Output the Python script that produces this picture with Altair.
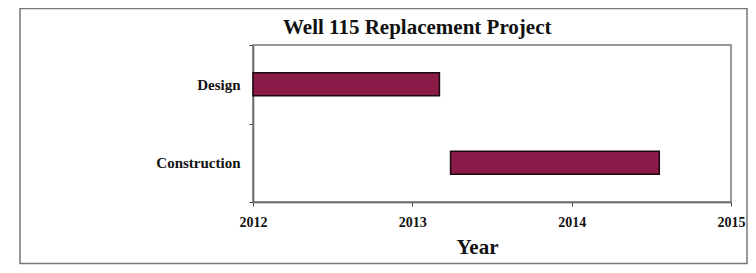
import altair as alt
import pandas as pd

tasks = ["Design", "Construction"]
start_year = [2012.0, 2013.24]
end_year = [2013.17, 2014.55]
x_ticks = [2012, 2013, 2014, 2015]
chart_title = "Well 115 Replacement Project"

df = pd.DataFrame({"task": tasks, "start": start_year, "end": end_year})
one_row = pd.DataFrame({"a": [0]})

FONT = "Liberation Serif"

bars = alt.Chart(df).mark_bar(
    color="#8a1a48", stroke="#1a0a10", strokeWidth=1.5, size=23
).encode(
    x=alt.X(
        "start:Q",
        scale=alt.Scale(domain=[2012, 2015], nice=False, zero=False),
        axis=alt.Axis(
            values=x_ticks, format="d", title="Year", grid=False, labelFlush=False,
            labelFont=FONT, labelFontWeight="bold", labelFontSize=14, labelColor="#111",
            labelPadding=9, tickSize=4, tickColor="#444", domainColor="#444", domainWidth=1.5,
            titleFont=FONT, titleFontWeight="bold", titleFontSize=21, titleColor="#111",
            titleX=224, titleY=51, titleBaseline="alphabetic",
        ),
    ),
    x2="end:Q",
    y=alt.Y(
        "task:N",
        sort=tasks,
        scale=alt.Scale(paddingInner=0, paddingOuter=0),
        axis=alt.Axis(
            title=None, grid=False, tickBand="extent",
            labelFont=FONT, labelFontWeight="bold", labelFontSize=15, labelColor="#111",
            labelPadding=9, tickSize=4, tickColor="#444", domainColor="#444", domainWidth=1.5,
        ),
    ),
)

outer_frame = alt.Chart(one_row).mark_rect(
    fill=None, stroke="#777", strokeWidth=1.5, clip=False
).encode(
    x=alt.value(-233), x2=alt.value(494), y=alt.value(-36.5), y2=alt.value(218.5)
)

plot_frame = alt.Chart(one_row).mark_rect(
    fill=None, stroke="#777", strokeWidth=1.5
).encode(
    x=alt.value(0), x2=alt.value(478), y=alt.value(0), y2=alt.value(157)
)

title_text = alt.Chart(one_row).mark_text(
    font=FONT, fontWeight="bold", fontSize=21, color="#111",
    align="left", baseline="alphabetic", clip=False
).encode(
    x=alt.value(30), y=alt.value(-11), text=alt.value(chart_title)
)

chart = alt.layer(outer_frame, plot_frame, bars, title_text).properties(
    width=478,
    height=157,
    autosize=alt.AutoSizeParams(type="none"),
    padding={"left": 245, "top": 37, "right": 17, "bottom": 63},
    background="white",
).configure_view(stroke=None)

chart.save("out.html", embed_options={"renderer": "svg", "actions": False})
